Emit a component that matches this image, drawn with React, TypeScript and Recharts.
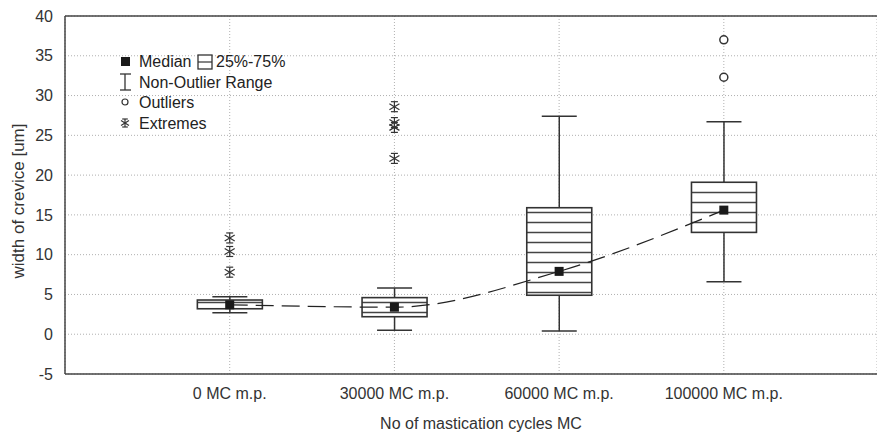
import React from 'react';
import {
  ComposedChart, Bar, Line, Scatter, XAxis, YAxis, CartesianGrid, ReferenceLine, Legend,
} from 'recharts';

const categories = ['0 MC m.p.', '30000 MC m.p.', '60000 MC m.p.', '100000 MC m.p.'];
const whiskerLow = [2.7, 0.5, 0.4, 6.6];
const q1 = [3.2, 2.2, 4.9, 12.8];
const median = [3.7, 3.4, 7.9, 15.6];
const q3 = [4.3, 4.6, 15.9, 19.1];
const whiskerHigh = [4.7, 5.8, 27.4, 26.7];
const extremes = [[7.8, 10.4, 12.1], [22.1, 26.0, 26.6, 28.6], [], []];
const outliers = [[], [], [], [32.3, 37.0]];
const yTicks = [-5, 0, 5, 10, 15, 20, 25, 30, 35, 40];
const legendItems = ['Median', '25%-75%', 'Non-Outlier Range', 'Outliers', 'Extremes'];

const FONT = '"Liberation Sans", Arial, sans-serif';
const TXT = '#333';

const data = categories.map((c, i) => ({
  x: i + 1,
  range: [whiskerLow[i], whiskerHigh[i]],
  q1: q1[i],
  q3: q3[i],
  median: median[i],
}));

const medianPts = categories.map((c, i) => ({ x: i + 1, y: median[i] }));
const extremePts = extremes.flatMap((arr, i) => arr.map((v) => ({ x: i + 1, y: v })));
const outlierPts = outliers.flatMap((arr, i) => arr.map((v) => ({ x: i + 1, y: v })));

const BoxShape = (props: any) => {
  const { x, y, width, height, payload } = props;
  if (!payload || height == null) return null;
  const [lo, hi] = payload.range;
  const toY = (v: number) => y + ((hi - v) / (hi - lo)) * height;
  const cx = x + width / 2;
  const capW = 35;
  const top = toY(payload.q3);
  const bot = toY(payload.q1);
  const hatch: React.ReactNode[] = [];
  for (let ly = Math.ceil((top - 2.5) / 10) * 10 + 2.5; ly < bot; ly += 10) {
    if (ly > top + 0.5) hatch.push(<line key={ly} x1={x} x2={x + width} y1={ly} y2={ly} stroke="#444" strokeWidth={1.3} />);
  }
  return (
    <g>
      <line x1={cx} x2={cx} y1={y} y2={y + height} stroke="#333" strokeWidth={1.5} />
      <line x1={cx - capW / 2} x2={cx + capW / 2} y1={y} y2={y} stroke="#333" strokeWidth={1.5} />
      <line x1={cx - capW / 2} x2={cx + capW / 2} y1={y + height} y2={y + height} stroke="#333" strokeWidth={1.5} />
      <rect x={x} y={top} width={width} height={bot - top} fill="#fff" />
      {hatch}
      <rect x={x} y={top} width={width} height={bot - top} fill="none" stroke="#333" strokeWidth={1.6} />
    </g>
  );
};

const MedianShape = (props: any) => {
  const { cx, cy } = props;
  return <rect x={cx - 4.5} y={cy - 4.5} width={9} height={9} fill="#1a1a1a" />;
};

const Asterisk = ({ cx, cy, s = 5 }: any) => (
  <g stroke="#333" strokeWidth={1.2}>
    <line x1={cx} x2={cx} y1={cy - s} y2={cy + s} />
    <line x1={cx - s} x2={cx + s} y1={cy - s * 0.6} y2={cy + s * 0.6} />
    <line x1={cx - s} x2={cx + s} y1={cy + s * 0.6} y2={cy - s * 0.6} />
    <line x1={cx - s * 0.7} x2={cx + s * 0.7} y1={cy - s} y2={cy - s} />
    <line x1={cx - s * 0.7} x2={cx + s * 0.7} y1={cy + s} y2={cy + s} />
  </g>
);

const ExtremeShape = (props: any) => <Asterisk cx={props.cx} cy={props.cy} />;

const OutlierShape = (props: any) => (
  <circle cx={props.cx} cy={props.cy} r={4} fill="#fff" stroke="#333" strokeWidth={1.5} />
);

const LegendContent = () => {
  const tx = 24;
  const ts = { fontFamily: FONT, fontSize: 16, fill: '#222' } as const;
  return (
    <svg width={220} height={90} style={{ display: 'block', overflow: 'visible' }}>
      <rect x={6} y={9} width={9} height={9} fill="#1a1a1a" />
      <text x={tx} y={19} style={ts}>{legendItems[0]}</text>
      <rect x={83} y={7} width={14} height={14} fill="#fff" stroke="#333" strokeWidth={1.3} />
      <line x1={83} x2={97} y1={14} y2={14} stroke="#333" strokeWidth={1.2} />
      <text x={101} y={19} style={ts}>{legendItems[1]}</text>
      <line x1={10} x2={10} y1={26} y2={42} stroke="#333" strokeWidth={1.3} />
      <line x1={5} x2={16} y1={26} y2={26} stroke="#333" strokeWidth={1.3} />
      <line x1={5} x2={16} y1={42} y2={42} stroke="#333" strokeWidth={1.3} />
      <text x={tx} y={40} style={ts}>{legendItems[2]}</text>
      <circle cx={10} cy={54} r={3} fill="#fff" stroke="#333" strokeWidth={1.2} />
      <text x={tx} y={60} style={ts}>{legendItems[3]}</text>
      <Asterisk cx={10} cy={75} s={4} />
      <text x={tx} y={81} style={ts}>{legendItems[4]}</text>
    </svg>
  );
};

const YLabel = (props: any) => {
  const vb = props.viewBox || {};
  const cx = 18;
  const cy = vb.y + vb.height / 2 + 6;
  return (
    <text x={cx} y={cy} transform={`rotate(-90 ${cx} ${cy})`} textAnchor="middle" dominantBaseline="central"
      style={{ fontFamily: FONT, fontSize: 17, fill: TXT }}>
      width of crevice [um]
    </text>
  );
};

const XLabel = (props: any) => {
  const vb = props.viewBox || {};
  const cx = vb.x + vb.width / 2 + 10;
  return (
    <text x={cx} y={429} textAnchor="middle"
      style={{ fontFamily: FONT, fontSize: 16, fill: TXT }}>
      No of mastication cycles MC
    </text>
  );
};

export default function App() {
  return (
    <div style={{ position: 'absolute', left: 0, top: 0, background: '#fff' }}>
      <ComposedChart width={877} height={437} data={data} margin={{ top: 16, right: 0, bottom: 0, left: 0 }}>
        <CartesianGrid stroke="#b0b0b0" strokeDasharray="1 2" />
        <XAxis
          dataKey="x"
          type="number"
          domain={[0, 4.93]}
          ticks={[1, 2, 3, 4]}
          allowDataOverflow
          tickFormatter={(v: number) => categories[v - 1] ?? ''}
          height={63}
          tickLine={false}
          tickSize={6}
          tickMargin={8}
          axisLine={{ stroke: '#444', strokeWidth: 1.5 }}
          tick={{ fontFamily: FONT, fontSize: 16, fill: TXT }}
          label={<XLabel />}
        />
        <YAxis
          type="number"
          domain={[-5, 40]}
          ticks={yTicks}
          allowDataOverflow
          width={65}
          tickLine={false}
          tickSize={6}
          tickMargin={6}
          axisLine={{ stroke: '#444', strokeWidth: 1.5 }}
          tick={{ fontFamily: FONT, fontSize: 16, fill: TXT }}
          label={<YLabel />}
        />
        <ReferenceLine y={40} stroke="#444" strokeWidth={1.5} />
        <Legend
          layout="horizontal"
          verticalAlign="middle"
          align="center"
          wrapperStyle={{ position: 'absolute', left: 115, top: 48, width: 220, height: 90 }}
          content={() => <LegendContent />}
        />
        <Bar dataKey="range" barSize={65} shape={<BoxShape />} isAnimationActive={false} legendType="none" />
        <Line dataKey="median" type="monotone" stroke="#222" strokeWidth={1.2} strokeDasharray="18 8"
          dot={false} activeDot={false} isAnimationActive={false} legendType="none" />
        <Scatter data={extremePts} dataKey="y" shape={<ExtremeShape />} isAnimationActive={false} legendType="none" />
        <Scatter data={outlierPts} dataKey="y" shape={<OutlierShape />} isAnimationActive={false} legendType="none" />
        <Scatter data={medianPts} dataKey="y" shape={<MedianShape />} isAnimationActive={false} legendType="none" />
      </ComposedChart>
    </div>
  );
}
